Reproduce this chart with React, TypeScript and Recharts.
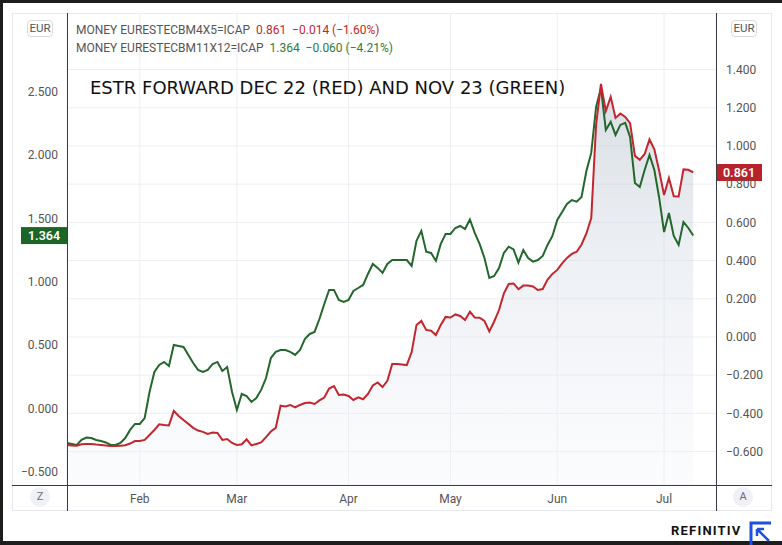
import { ComposedChart, Area, Line, XAxis, YAxis, CartesianGrid, ReferenceLine } from 'recharts';

// ESTR forwards, one point per weekday from mid-January to early July
const redValues = [
  -0.565, -0.568, -0.569, -0.562, -0.560, -0.560, -0.563, -0.565, -0.568, -0.571,
  -0.571, -0.569, -0.567, -0.558, -0.545, -0.545, -0.539, -0.513, -0.487, -0.457,
  -0.461, -0.463, -0.387, -0.414, -0.435, -0.455, -0.476, -0.490, -0.497, -0.508,
  -0.500, -0.503, -0.539, -0.534, -0.555, -0.565, -0.562, -0.536, -0.568, -0.560,
  -0.552, -0.524, -0.495, -0.476, -0.360, -0.364, -0.356, -0.369, -0.356, -0.346,
  -0.343, -0.351, -0.332, -0.317, -0.270, -0.257, -0.304, -0.301, -0.309, -0.330,
  -0.316, -0.326, -0.298, -0.254, -0.238, -0.262, -0.230, -0.141, -0.141, -0.144,
  -0.147, -0.079, 0.063, 0.084, 0.037, 0.033, 0.010, 0.063, 0.105, 0.102,
  0.118, 0.110, 0.089, 0.132, 0.102, 0.101, 0.084, 0.029, 0.081, 0.141,
  0.228, 0.277, 0.280, 0.250, 0.269, 0.269, 0.264, 0.246, 0.251, 0.301,
  0.330, 0.351, 0.385, 0.414, 0.435, 0.446, 0.484, 0.542, 0.623, 1.110,
  1.325, 1.183, 1.257, 1.147, 1.170, 1.152, 1.119, 0.948, 0.927, 0.958,
  1.034, 0.982, 0.869, 0.743, 0.832, 0.736, 0.735, 0.877, 0.875, 0.861,
];

const greenValues = [
  -0.274, -0.282, -0.290, -0.250, -0.231, -0.235, -0.250, -0.258, -0.270, -0.290,
  -0.290, -0.274, -0.235, -0.171, -0.124, -0.124, -0.077, 0.129, 0.287, 0.342,
  0.366, 0.334, 0.500, 0.492, 0.484, 0.421, 0.358, 0.303, 0.287, 0.303,
  0.350, 0.366, 0.295, 0.326, 0.129, -0.013, 0.113, 0.097, 0.050, 0.081,
  0.145, 0.239, 0.397, 0.445, 0.460, 0.460, 0.445, 0.421, 0.460, 0.547,
  0.587, 0.603, 0.705, 0.824, 0.935, 0.935, 0.855, 0.840, 0.855, 0.927,
  0.950, 0.974, 1.061, 1.140, 1.109, 1.069, 1.140, 1.171, 1.171, 1.171,
  1.171, 1.124, 1.322, 1.401, 1.237, 1.227, 1.164, 1.298, 1.377, 1.377,
  1.424, 1.440, 1.416, 1.491, 1.385, 1.298, 1.187, 1.029, 1.045, 1.108,
  1.227, 1.276, 1.254, 1.150, 1.250, 1.187, 1.158, 1.171, 1.203, 1.290,
  1.361, 1.487, 1.551, 1.614, 1.645, 1.632, 1.669, 1.874, 2.017, 2.380,
  2.530, 2.198, 2.262, 2.159, 2.238, 2.254, 2.143, 1.780, 1.748, 1.882,
  2.001, 1.882, 1.661, 1.392, 1.542, 1.361, 1.290, 1.472, 1.424, 1.364,
];

// first weekday of each month, as an index into the series
const monthTickIndex = [15, 35, 58, 79, 101, 123];
const monthLabels = ['Feb', 'Mar', 'Apr', 'May', 'Jun', 'Jul'];

const leftTicks = [-0.5, 0, 0.5, 1, 1.5, 2, 2.5];
const rightTicks = [-0.6, -0.4, -0.2, 0, 0.2, 0.4, 0.6, 0.8, 1.0, 1.2, 1.4];

const RED = '#c2262e';
const GREEN = '#23672c';

const data = redValues.map((r, i) => ({ i, red: r, green: greenValues[i] }));

const fmt = (v: number) => (v < 0 ? '\u2212' : '') + Math.abs(v).toFixed(3);
const monthName = (v: number) => monthLabels[monthTickIndex.indexOf(v)] ?? '';

const PriceTag = (props: any) => {
  const { viewBox, side, fill, text } = props;
  const w = 46;
  const h = 17;
  const left = side === 'right' ? viewBox.x + viewBox.width : viewBox.x - w;
  return (
    <g>
      <rect x={left} y={viewBox.y - h / 2} width={w} height={h} fill={fill} />
      <text x={left + w / 2} y={viewBox.y} dy="0.36em" textAnchor="middle" fill="#fff" fontSize={12.5} fontWeight={600}>
        {text}
      </text>
    </g>
  );
};

const line = (style: any) => <div style={{ position: 'absolute', background: '#3a3d45', ...style }} />;

const circleBtn = (x: number, label: string) => (
  <div style={{
    position: 'absolute', left: x - 10, top: 487, width: 20, height: 20, borderRadius: 10,
    background: '#eff1f5', color: '#6a6d78', fontSize: 11, lineHeight: '20px', textAlign: 'center',
  }}>{label}</div>
);

const eurBox = (x: number) => (
  <div style={{
    position: 'absolute', left: x, top: 20, width: 26, height: 17, boxSizing: 'border-box',
    border: '1px solid #d9dbe1', borderRadius: 4, fontSize: 11.5, lineHeight: '15px',
    textAlign: 'center', color: '#555',
  }}>EUR</div>
);

export default function App() {
  const last = redValues.length - 1;
  return (
    <div style={{ position: 'relative', width: 782, height: 545, background: '#1d1d1d', fontFamily: 'Roboto, sans-serif' }}>
      <style>{'body{margin:0}'}</style>
      <div style={{ position: 'absolute', left: 3, top: 3, width: 779, height: 538, background: '#fff' }} />
      <div style={{ position: 'absolute', left: 12, top: 13, width: 760, height: 498, border: '1px solid #e6e8ed', boxSizing: 'border-box' }} />

      <div style={{ position: 'absolute', left: 12, top: 13 }}>
        <ComposedChart width={760} height={498} data={data} margin={{ top: 0, right: 0, bottom: 0, left: 0 }}>
          <defs>
            <linearGradient id="redFill" x1="0" y1="0" x2="0" y2="1">
              <stop offset="0%" stopColor="#a9b6c3" stopOpacity={0.75} />
              <stop offset="45%" stopColor="#d3dae4" stopOpacity={0.65} />
              <stop offset="100%" stopColor="#f3f5fa" stopOpacity={0.5} />
            </linearGradient>
          </defs>
          <CartesianGrid yAxisId="right" stroke="#eceef2" />
          <XAxis
            dataKey="i"
            type="number"
            domain={[0, 133.7]}
            allowDataOverflow
            ticks={monthTickIndex}
            tickFormatter={monthName}
            height={26}
            tickSize={0}
            tickMargin={9}
            axisLine={false}
            tick={{ fill: '#555', fontSize: 12 }}
          />
          <YAxis
            yAxisId="left"
            orientation="left"
            width={55}
            domain={[-0.606, 3.122]}
            allowDataOverflow
            ticks={leftTicks}
            tickFormatter={fmt}
            tickSize={0}
            tickMargin={9}
            axisLine={false}
            tick={{ fill: '#555', fontSize: 12 }}
          />
          <YAxis
            yAxisId="right"
            orientation="right"
            width={56}
            domain={[-0.775, 1.696]}
            allowDataOverflow
            ticks={rightTicks}
            tickFormatter={fmt}
            tickSize={0}
            tickMargin={10}
            axisLine={false}
            tick={{ fill: '#555', fontSize: 12 }}
          />
          <Area
            yAxisId="right"
            dataKey="red"
            type="linear"
            baseValue="dataMin"
            stroke="none"
            fill="url(#redFill)"
            isAnimationActive={false}
          />
          <Line yAxisId="left" dataKey="green" type="linear" stroke={GREEN} strokeWidth={2} dot={false} isAnimationActive={false} />
          <Line yAxisId="right" dataKey="red" type="linear" stroke={RED} strokeWidth={2} dot={false} isAnimationActive={false} />
          <ReferenceLine
            yAxisId="right"
            y={redValues[last]}
            stroke="none"
            label={<PriceTag side="right" fill="#b8222a" text={redValues[last].toFixed(3)} />}
          />
          <ReferenceLine
            yAxisId="left"
            y={greenValues[last]}
            stroke="none"
            label={<PriceTag side="left" fill="#1d6526" text={greenValues[last].toFixed(3)} />}
          />
        </ComposedChart>
      </div>

      {line({ left: 67, top: 13, width: 1, height: 498 })}
      {line({ left: 716, top: 13, width: 1, height: 498 })}
      {line({ left: 12, top: 485, width: 760, height: 1 })}

      {eurBox(27)}
      {eurBox(731)}
      {circleBtn(40, 'Z')}
      {circleBtn(743, 'A')}

      <div style={{ position: 'absolute', left: 76, top: 21, fontSize: 12, lineHeight: '18px', color: '#555', whiteSpace: 'pre' }}>
        <div>MONEY EURESTECBM4X5=ICAP  <span style={{ color: RED }}>0.861  {'\u2212'}0.014 ({'\u2212'}1.60%)</span></div>
        <div>MONEY EURESTECBM11X12=ICAP  <span style={{ color: '#2f7a3a' }}>1.364  {'\u2212'}0.060 ({'\u2212'}4.21%)</span></div>
      </div>

      <div style={{ position: 'absolute', left: 90, top: 77, fontFamily: '"DejaVu Sans", sans-serif', fontSize: 18, color: '#111', whiteSpace: 'nowrap' }}>
        ESTR FORWARD DEC 22 (RED) AND NOV 23 (GREEN)
      </div>

      <div style={{ position: 'absolute', left: 671, top: 523, fontSize: 13, fontWeight: 700, letterSpacing: 1.2, color: '#111' }}>
        REFINITIV
      </div>
      <svg style={{ position: 'absolute', left: 749, top: 520 }} width={24} height={25}>
        <path d="M2 25 V3 H22" fill="none" stroke="#1f4fe0" strokeWidth={3} />
        <path d="M8 9 L20 21 M8 9 V16 M8 9 H15" fill="none" stroke="#1f4fe0" strokeWidth={2.5} />
      </svg>
    </div>
  );
}
